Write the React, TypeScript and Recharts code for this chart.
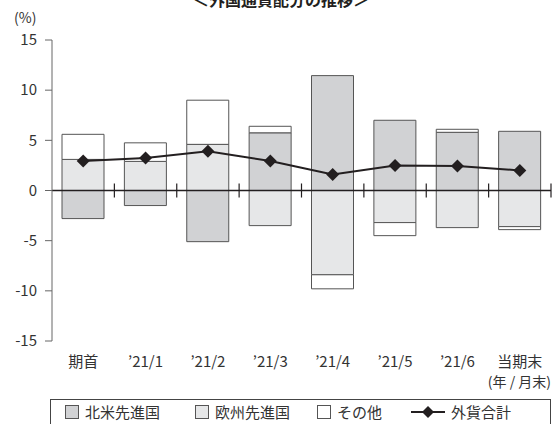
import {
  ComposedChart,
  Bar,
  Line,
  XAxis,
  YAxis,
  ReferenceLine,
} from 'recharts'

const categories = ['期首', '’21/1', '’21/2', '’21/3', '’21/4', '’21/5', '’21/6', '当期末']
const northAmerica = [-2.8, -1.5, -5.1, 5.75, 11.45, 7.0, 5.8, 5.9]
const europe = [3.1, 2.9, 4.6, -3.5, -8.4, -3.2, -3.7, -3.6]
const other = [2.5, 1.85, 4.4, 0.65, -1.4, -1.3, 0.3, -0.3]
const total = [2.95, 3.25, 3.9, 2.95, 1.6, 2.5, 2.45, 2.0]
const yTicks = [-15, -10, -5, 0, 5, 10, 15]
const separators = [1, 2, 3, 4, 5, 6, 7, 8]

const data = categories.map((name, i) => ({
  name,
  pos: i + 0.5,
  na: northAmerica[i],
  eu: europe[i],
  other: other[i],
  total: total[i],
}))

const FONT = '"Noto Sans CJK JP", "Noto Sans", sans-serif'
const TEXT = '#333'

function Diamond({ cx, cy }: { cx?: number; cy?: number }) {
  if (cx === undefined || cy === undefined) return null
  const r = 6.5
  return (
    <path
      d={`M${cx},${cy - r} L${cx + r},${cy} L${cx},${cy + r} L${cx - r},${cy} Z`}
      fill="#231f20"
    />
  )
}

function LegendSwatch({ color }: { color: string }) {
  return (
    <span
      style={{
        display: 'inline-block',
        width: 12,
        height: 12,
        background: color,
        border: '1px solid #555',
        marginRight: 6,
      }}
    />
  )
}

export default function App() {
  return (
    <div style={{ position: 'absolute', left: 0, top: 0, width: 552, height: 424, overflow: 'hidden', fontFamily: FONT, color: TEXT }}>
      <div style={{ position: 'absolute', left: 0, width: 562, top: -13, textAlign: 'center', fontWeight: 700, fontSize: 16, color: '#231f20' }}>
        ＜外国通貨配分の推移＞
      </div>
      <div style={{ position: 'absolute', left: 14, top: 7, fontSize: 14 }}>(%)</div>
      <div style={{ position: 'absolute', right: 1, top: 371, fontSize: 14 }}>(年 / 月末)</div>

      <ComposedChart
        width={552}
        height={424}
        data={data}
        stackOffset="sign"
        margin={{ top: 40, right: 1, bottom: 63, left: 0 }}
      >
        <XAxis
          dataKey="name"
          xAxisId="cat"
          axisLine={false}
          tickLine={false}
          tickMargin={9}
          interval={0}
          tick={{ fontSize: 15, fill: TEXT, fontFamily: FONT }}
          height={20}
        />
        <XAxis xAxisId="num" dataKey="pos" type="number" domain={[0, 8]} allowDataOverflow hide />
        <YAxis
          domain={[-15, 15]}
          ticks={yTicks}
          width={52}
          stroke="#666"
          tickSize={7}
          tickMargin={8}
          tick={{ fontSize: 15, fill: TEXT, fontFamily: FONT }}
        />
        <Bar xAxisId="cat" dataKey="na" stackId="a" barSize={42} fill="#d1d2d4" stroke="#555" strokeWidth={1} isAnimationActive={false} />
        <Bar xAxisId="cat" dataKey="eu" stackId="a" barSize={42} fill="#e6e7e8" stroke="#555" strokeWidth={1} isAnimationActive={false} />
        <Bar xAxisId="cat" dataKey="other" stackId="a" barSize={42} fill="#ffffff" stroke="#555" strokeWidth={1} isAnimationActive={false} />
        <ReferenceLine xAxisId="cat" y={0} stroke="#231f20" strokeWidth={1.5} />
        {separators.map((s) => (
          <ReferenceLine
            key={s}
            xAxisId="num"
            segment={[{ x: s, y: -0.7 }, { x: s, y: 0.7 }]}
            stroke="#231f20"
            strokeWidth={1.2}
            ifOverflow="visible"
          />
        ))}
        <Line
          xAxisId="cat"
          dataKey="total"
          stroke="#231f20"
          strokeWidth={2}
          dot={<Diamond />}
          activeDot={false}
          isAnimationActive={false}
        />
      </ComposedChart>

      <div
        style={{
          position: 'absolute',
          left: 50,
          top: 399,
          width: 501,
          height: 32,
          border: '1px solid #444',
          fontSize: 15,
          boxSizing: 'border-box',
        }}
      >
        <span style={{ position: 'absolute', left: 14, top: 1, display: 'flex', alignItems: 'center' }}>
          <LegendSwatch color="#d1d2d4" />北米先進国
        </span>
        <span style={{ position: 'absolute', left: 144, top: 1, display: 'flex', alignItems: 'center' }}>
          <LegendSwatch color="#e6e7e8" />欧州先進国
        </span>
        <span style={{ position: 'absolute', left: 266, top: 1, display: 'flex', alignItems: 'center' }}>
          <LegendSwatch color="#ffffff" />その他
        </span>
        <span style={{ position: 'absolute', left: 360, top: 1, display: 'flex', alignItems: 'center' }}>
          <svg width={34} height={14} style={{ marginRight: 6 }}>
            <line x1={0} y1={7} x2={34} y2={7} stroke="#231f20" strokeWidth={2} />
            <path d="M17,1 L23,7 L17,13 L11,7 Z" fill="#231f20" />
          </svg>
          外貨合計
        </span>
      </div>
    </div>
  )
}
